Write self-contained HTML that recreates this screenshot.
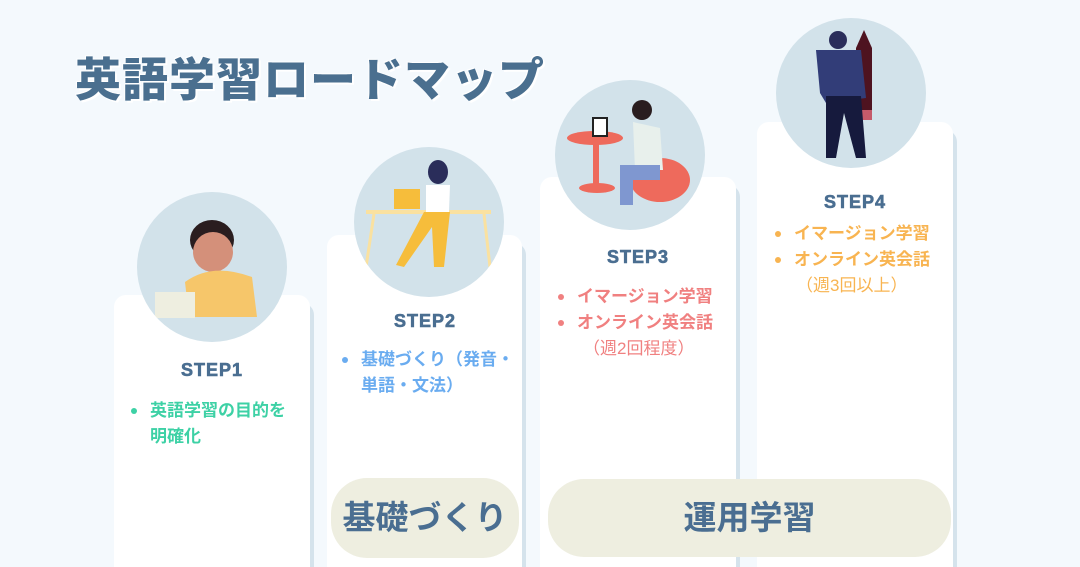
<!DOCTYPE html>
<html style="overflow:hidden;height:567px"><head><meta charset="utf-8">
<style>
html,body{overflow:hidden}
body{margin:0;width:1080px;height:567px;background:#f4f9fd;position:relative;overflow:hidden;font-family:"Liberation Sans","Noto Sans CJK JP",sans-serif}
.card{position:absolute;background:#fff;border-radius:12px;box-shadow:4px 8px 0 #d5e3ec}
.circ{position:absolute;width:150px;height:150px;border-radius:50%;background:#d2e2ea;overflow:hidden}
.step{position:absolute;font-weight:900;font-size:18px;color:#4a6e91;letter-spacing:1px;text-align:center;width:196px;-webkit-text-stroke:0.6px #4a6e91}
.bl{position:absolute;font-weight:bold;font-size:17px;line-height:26px}
.bl div{position:relative;padding-left:22px}
.bl div.b:before{content:"";position:absolute;left:3px;top:10px;width:6px;height:6px;border-radius:50%;background:currentColor}
.pill{position:absolute;background:#eeeee0;border-radius:36px;color:#4a6e91;font-weight:bold;font-size:33px;text-align:center}
h1{position:absolute;left:75px;top:44px;margin:0;font-size:46px;color:#4a6f8f;font-weight:900;text-shadow:2px 2px 0 #fff,-1px -1px 0 #fff;letter-spacing:1px}
</style></head><body>
<h1>英語学習ロードマップ</h1>

<div class="card" style="left:114px;top:295px;width:196px;height:290px"></div>
<div class="card" style="left:327px;top:235px;width:195px;height:350px"></div>
<div class="card" style="left:540px;top:177px;width:196px;height:410px"></div>
<div class="card" style="left:757px;top:122px;width:196px;height:460px"></div>

<div class="circ" style="left:137px;top:192px">
<svg width="150" height="150"><ellipse cx="75" cy="48" rx="22" ry="20" fill="#2a1d1f"/><ellipse cx="76" cy="60" rx="20" ry="20" fill="#d4907a"/><path d="M48 90 Q75 70 115 85 L120 125 L52 125Z" fill="#f6c66a"/><rect x="18" y="100" width="40" height="26" fill="#eeeee0"/></svg></div>
<div class="circ" style="left:354px;top:147px">
<svg width="150" height="150"><rect x="12" y="63" width="125" height="4" fill="#fae1a0"/><line x1="20" y1="67" x2="12" y2="120" stroke="#fae1a0" stroke-width="3"/><line x1="130" y1="67" x2="136" y2="120" stroke="#fae1a0" stroke-width="3"/><rect x="40" y="42" width="26" height="20" fill="#f6bd3b"/><ellipse cx="84" cy="25" rx="10" ry="12" fill="#2a2d5a"/><path d="M72 38 L96 38 L95 65 L72 65Z" fill="#fff"/><path d="M70 65 L96 65 L90 120 L80 120 L78 80 L50 120 L42 118Z" fill="#f6bd3b"/></svg></div>
<div class="circ" style="left:555px;top:80px">
<svg width="150" height="150"><ellipse cx="40" cy="58" rx="28" ry="7" fill="#ee6a5c"/><rect x="38" y="60" width="6" height="48" fill="#ee6a5c"/><ellipse cx="42" cy="108" rx="18" ry="5" fill="#ee6a5c"/><ellipse cx="105" cy="100" rx="30" ry="22" fill="#ee6a5c"/><rect x="38" y="38" width="14" height="18" fill="#fff" stroke="#222" stroke-width="2"/><circle cx="87" cy="30" r="10" fill="#2a1d1f"/><path d="M78 42 L105 48 L108 90 L80 90Z" fill="#e8f0ec"/><path d="M65 85 L105 85 L105 100 L78 100 L78 125 L65 125Z" fill="#7f97d0"/></svg></div>
<div class="circ" style="left:776px;top:18px">
<svg width="150" height="150"><path d="M88 12 L96 30 L96 100 L80 100 L80 30Z" fill="#4e1320"/><rect x="80" y="92" width="16" height="10" fill="#c55a6a"/><circle cx="62" cy="22" r="9" fill="#2a2d5a"/><path d="M40 32 L85 32 L90 80 L50 85 L44 75Z" fill="#323d78"/><path d="M50 78 L85 78 L90 140 L80 140 L68 95 L60 140 L50 140Z" fill="#161a3d"/></svg></div>

<div class="step" style="left:114px;top:360px">STEP1</div>
<div class="step" style="left:327px;top:311px">STEP2</div>
<div class="step" style="left:540px;top:247px">STEP3</div>
<div class="step" style="left:757px;top:192px">STEP4</div>

<div class="bl" style="left:128px;top:398px;color:#3dd1a5;width:174px"><div class="b">英語学習の目的を明確化</div></div>
<div class="bl" style="left:339px;top:347px;color:#6aacf0;width:180px"><div class="b">基礎づくり（発音・単語・文法）</div></div>
<div class="bl" style="left:555px;top:284px;color:#f08080;width:200px"><div class="b">イマージョン学習</div><div class="b">オンライン英会話</div><div style="font-weight:normal;padding-left:28px">（週2回程度）</div></div>
<div class="bl" style="left:772px;top:221px;color:#f8b451;width:200px"><div class="b">イマージョン学習</div><div class="b">オンライン英会話</div><div style="font-weight:normal;padding-left:24px">（週3回以上）</div></div>

<div class="pill" style="left:331px;top:478px;width:188px;height:80px;line-height:80px">基礎づくり</div>
<div class="pill" style="left:548px;top:479px;width:403px;height:78px;line-height:78px">運用学習</div>
</body></html>
